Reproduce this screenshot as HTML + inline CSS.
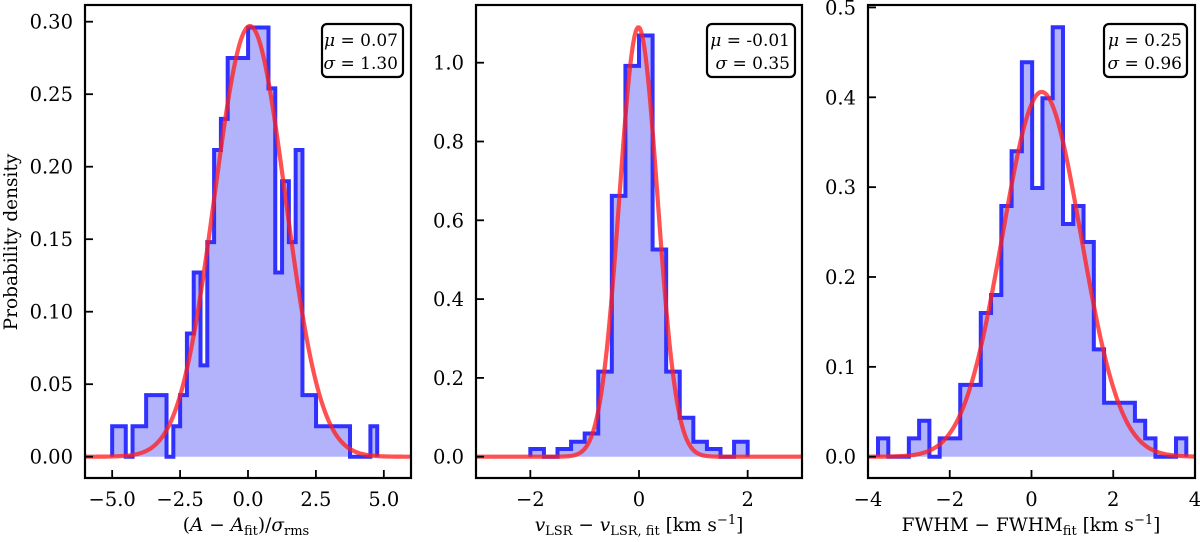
<!DOCTYPE html>
<html><head><meta charset="utf-8"><style>
body{margin:0;background:#fff;}
svg{display:block;font-family:"DejaVu Serif","Liberation Serif",serif;}
</style></head><body>
<svg id="fig" width="1200" height="542" viewBox="0 0 1200 542"></svg>
<script>
// Panel 1 data
const p1Start = -5.0, p1Width = 9.756/39;
const p1Heights = [0.021,0.021,0,0.021,0.021,0.0425,0.0425,0.0425,0,0.021,0.0425,0.085,0.127,0.063,0.148,0.2115,0.233,0.275,0.275,0.275,0.296,0.296,0.296,0.254,0.127,0.19,0.148,0.2115,0.0425,0.0425,0.021,0.021,0.021,0.021,0.021,0,0,0,0.021];
const p1Fit = [0.07, 1.30, 0.297];
const p1XTicks = [-5.0,-2.5,0.0,2.5,5.0];
const p1XTickLabels = ["−5.0","−2.5","0.0","2.5","5.0"];
const p1YTicks = [0,0.05,0.10,0.15,0.20,0.25,0.30];
const p1YTickLabels = ["0.00","0.05","0.10","0.15","0.20","0.25","0.30"];
// Panel 2 data
const p2Start = -2.0, p2Width = 0.25;
const p2Heights = [0.0195,0,0.0195,0.038,0.059,0.216,0.662,0.992,1.069,0.526,0.216,0.099,0.038,0.0195,0,0.038];
const p2Fit = [-0.01, 0.35, 1.09];
const p2XTicks = [-2,0,2];
const p2XTickLabels = ["−2","0","2"];
const p2YTicks = [0,0.2,0.4,0.6,0.8,1.0];
const p2YTickLabels = ["0.0","0.2","0.4","0.6","0.8","1.0"];
// Panel 3 data
const p3Start = -3.755, p3Width = 0.2514;
const p3Heights = [0.0204,0,0,0.0204,0.040,0,0.0204,0.0204,0.080,0.080,0.16,0.18,0.279,0.34,0.439,0.299,0.399,0.478,0.259,0.279,0.239,0.1195,0.060,0.060,0.060,0.040,0.0204,0,0,0.0204];
const p3Fit = [0.25, 0.96, 0.406];
const p3XTicks = [-4,-2,0,2,4];
const p3XTickLabels = ["−4","−2","0","2","4"];
const p3YTicks = [0,0.1,0.2,0.3,0.4,0.5];
const p3YTickLabels = ["0.0","0.1","0.2","0.3","0.4","0.5"];

const NS="http://www.w3.org/2000/svg";
const svg=document.getElementById('fig');
function mk(tag,attrs,parent){const e=document.createElementNS(NS,tag);for(const k in attrs)e.setAttribute(k,attrs[k]);(parent||svg).appendChild(e);return e;}

const panels=[
 {id:'p1',L:85,R:411,T:5,B:478,xmin:-6,xmax:6,y0:456.7,yTopVal:0.30,yTopPx:21.7,start:p1Start,w:p1Width,h:p1Heights,fit:p1Fit,xt:p1XTicks,xtl:p1XTickLabels,yt:p1YTicks,ytl:p1YTickLabels,box:[322,24,81,53],mu:"0.07",sig:"1.30"},
 {id:'p2',L:476,R:802,T:5,B:478,xmin:-3,xmax:3,y0:456.7,yTopVal:1.0,yTopPx:62.7,start:p2Start,w:p2Width,h:p2Heights,fit:p2Fit,xt:p2XTicks,xtl:p2XTickLabels,yt:p2YTicks,ytl:p2YTickLabels,box:[707,24,88,53],mu:"-0.01",sig:"0.35"},
 {id:'p3',L:868,R:1195,T:5,B:478,xmin:-4,xmax:4,y0:456.7,yTopVal:0.4,yTopPx:97.3,start:p3Start,w:p3Width,h:p3Heights,fit:p3Fit,xt:p3XTicks,xtl:p3XTickLabels,yt:p3YTicks,ytl:p3YTickLabels,box:[1104,24,83,53],mu:"0.25",sig:"0.96"}
];

panels.forEach((p,pi)=>{
  const X=v=>p.L+(v-p.xmin)/(p.xmax-p.xmin)*(p.R-p.L);
  const Y=v=>p.y0-(v/p.yTopVal)*(p.y0-p.yTopPx);
  const g=mk('g',{});
  
  
  const cp=mk('clipPath',{id:'clip'+pi},g);
  mk('rect',{x:p.L,y:p.T,width:p.R-p.L,height:p.B-p.T},cp);
  const pg=mk('g',{'clip-path':'url(#clip'+pi+')'},g);
  let d='M'+X(p.start)+','+Y(0);
  p.h.forEach((v,i)=>{d+=' L'+X(p.start+i*p.w)+','+Y(v)+' L'+X(p.start+(i+1)*p.w)+','+Y(v);});
  d+=' L'+X(p.start+p.h.length*p.w)+','+Y(0);
  const fill=mk('path',{d:d+' Z',fill:'#b3b3fb',stroke:'none'},pg);
  
  
  const st=mk('path',{d:d,fill:'none',stroke:'#3030ff','stroke-width':4,'stroke-linejoin':'miter'},pg);
  
  
  const [mu,sig,amp]=p.fit;
  let cd='';
  for(let k=0;k<=300;k++){const xv=p.xmin+(p.xmax-p.xmin)*k/300;const yv=amp*Math.exp(-0.5*((xv-mu)/sig)**2);cd+=(k?' L':'M')+X(xv).toFixed(2)+','+Y(yv).toFixed(2);}
  const c=mk('path',{d:cd,fill:'none',stroke:'#ff2020','stroke-opacity':0.78,'stroke-width':4.2},pg);
  
  
  const fr=mk('rect',{x:p.L,y:p.T,width:p.R-p.L,height:p.B-p.T,fill:'none',stroke:'#000','stroke-width':2.2},g);
  
  
  p.xt.forEach((v,i)=>{
    mk('line',{x1:X(v),x2:X(v),y1:p.B,y2:p.B-8,stroke:'#000','stroke-width':1.8},g);
    const t=mk('text',{x:X(v),y:506,'text-anchor':'middle','font-size':19.5},g);
    t.textContent=p.xtl[i];
    
    
  });
  p.yt.forEach((v,i)=>{
    mk('line',{x1:p.L,x2:p.L+8,y1:Y(v),y2:Y(v),stroke:'#000','stroke-width':1.8},g);
    const t=mk('text',{x:p.L-12,y:Y(v)+7,'text-anchor':'end','font-size':19.5},g);
    t.textContent=p.ytl[i];
    
    
  });
  const [bx,by,bw,bh]=p.box;
  const bg=mk('g',{},g);
  
  
  mk('rect',{x:bx,y:by,width:bw,height:bh,rx:5,fill:'#fff',stroke:'#000','stroke-width':2.2},bg);
  const t1=mk('text',{x:bx+bw-5,y:by+22,'text-anchor':'end','font-size':17},bg);
  t1.innerHTML='<tspan font-style="italic">μ</tspan> = '+p.mu;
  const t2=mk('text',{x:bx+bw-5,y:by+45,'text-anchor':'end','font-size':17},bg);
  t2.innerHTML='<tspan font-style="italic">σ</tspan> = '+p.sig;
});

const yl=mk('text',{x:0,y:0,transform:'translate(17,242) rotate(-90)','text-anchor':'middle','font-size':18.5});
yl.textContent='Probability density';


const x1=mk('text',{x:246,y:531,'text-anchor':'middle','font-size':18.5});
x1.innerHTML='(<tspan font-style="italic">A</tspan> − <tspan font-style="italic">A</tspan><tspan font-size="13" dy="4">fit</tspan><tspan dy="-4">)/</tspan><tspan font-style="italic">σ</tspan><tspan font-size="13" dy="4">rms</tspan>';


const x2=mk('text',{x:639,y:531,'text-anchor':'middle','font-size':18.5});
x2.innerHTML='<tspan font-style="italic">v</tspan><tspan font-size="13" dy="4">LSR</tspan><tspan dy="-4"> − </tspan><tspan font-style="italic">v</tspan><tspan font-size="13" dy="4">LSR, fit</tspan><tspan dy="-4"> [km s</tspan><tspan font-size="13" dy="-7">−1</tspan><tspan dy="7">]</tspan>';


const x3=mk('text',{x:1031,y:531,'text-anchor':'middle','font-size':18.5});
x3.innerHTML='FWHM − FWHM<tspan font-size="13" dy="4">fit</tspan><tspan dy="-4"> [km s</tspan><tspan font-size="13" dy="-7">−1</tspan><tspan dy="7">]</tspan>';


</script>
</body></html>
